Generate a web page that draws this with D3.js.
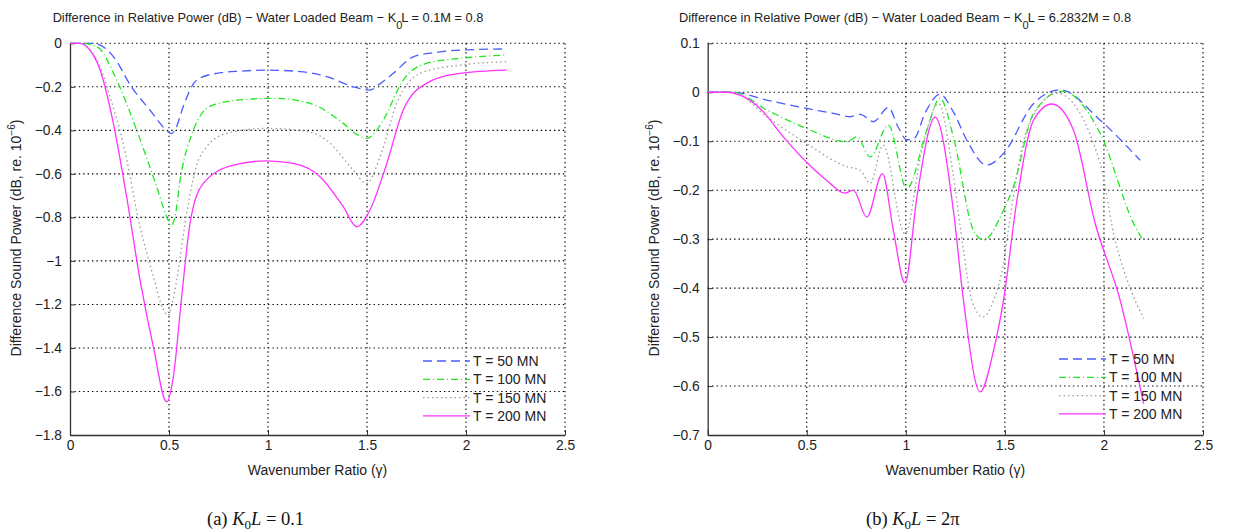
<!DOCTYPE html>
<html>
<head>
<meta charset="utf-8">
<script src="https://cdn.jsdelivr.net/npm/d3@7"></script>
<style>
  body { margin: 0; background: #fff; }
</style>
</head>
<body>
<div id="chart"></div>
<script>
// ---- data ----
var seriesNames = ["T = 50 MN", "T = 100 MN", "T = 150 MN", "T = 200 MN"];
var xTicks = [0, 0.5, 1, 1.5, 2, 2.5];
var yTicksA = [0, -0.2, -0.4, -0.6, -0.8, -1, -1.2, -1.4, -1.6, -1.8];
var yTicksB = [0.1, 0, -0.1, -0.2, -0.3, -0.4, -0.5, -0.6, -0.7];

// panel (a) K0L = 0.1, pairs [gamma, dB]
var a50 = [[0,0],[0.06,0],[0.118,0],[0.22,-0.062],[0.31,-0.2],[0.404,-0.307],[0.488,-0.4],[0.512,-0.415],
  [0.535,-0.39],[0.572,-0.29],[0.64,-0.169],[0.74,-0.138],[0.86,-0.128],[0.993,-0.123],[1.162,-0.13],
  [1.296,-0.153],[1.431,-0.2],[1.515,-0.215],[1.56,-0.19],[1.633,-0.138],[1.734,-0.062],[1.85,-0.042],
  [1.97,-0.031],[2.205,-0.026]];
var a100 = [[0,0],[0.06,0],[0.135,-0.015],[0.236,-0.169],[0.337,-0.4],[0.438,-0.66],[0.49,-0.8],[0.51,-0.838],
  [0.53,-0.8],[0.556,-0.629],[0.623,-0.4],[0.707,-0.29],[0.859,-0.26],[1.027,-0.253],[1.212,-0.276],
  [1.38,-0.368],[1.45,-0.42],[1.498,-0.437],[1.54,-0.41],[1.582,-0.353],[1.683,-0.169],[1.8,-0.092],
  [1.97,-0.069],[2.205,-0.054]];
var a150 = [[0,0],[0.06,0],[0.1,-0.03],[0.152,-0.107],[0.202,-0.245],[0.269,-0.46],[0.354,-0.843],[0.421,-1.073],
  [0.47,-1.22],[0.495,-1.25],[0.515,-1.2],[0.539,-1.088],[0.589,-0.782],[0.657,-0.52],[0.79,-0.414],
  [0.993,-0.391],[1.162,-0.4],[1.296,-0.445],[1.431,-0.583],[1.498,-0.644],[1.566,-0.521],[1.65,-0.276],
  [1.768,-0.138],[1.97,-0.1],[2.205,-0.085]];
var a200 = [[0,0],[0.05,0],[0.084,-0.015],[0.152,-0.123],[0.219,-0.368],[0.286,-0.705],[0.354,-1.088],
  [0.421,-1.395],[0.488,-1.648],[0.522,-1.533],[0.564,-1.165],[0.606,-0.828],[0.673,-0.644],[0.825,-0.56],
  [0.993,-0.54],[1.128,-0.552],[1.263,-0.613],[1.38,-0.751],[1.448,-0.843],[1.515,-0.766],[1.6,-0.552],
  [1.683,-0.307],[1.8,-0.184],[1.97,-0.138],[2.205,-0.123]];

// panel (b) K0L = 2*pi
var b50 = [[0,0],[0.13,0],[0.298,-0.016],[0.5,-0.033],[0.634,-0.043],[0.719,-0.05],[0.77,-0.045],
  [0.837,-0.06],[0.912,-0.031],[0.96,-0.07],[1.005,-0.097],[1.04,-0.095],[1.1,-0.04],[1.173,-0.004],
  [1.24,-0.04],[1.308,-0.098],[1.409,-0.149],[1.493,-0.125],[1.645,-0.023],[1.78,0.005],[1.981,-0.057],
  [2.183,-0.139]];
var b100 = [[0,0],[0.13,0],[0.298,-0.036],[0.5,-0.074],[0.702,-0.101],[0.753,-0.091],[0.82,-0.132],
  [0.912,-0.067],[1.005,-0.197],[1.106,-0.077],[1.173,-0.012],[1.24,-0.091],[1.341,-0.282],[1.392,-0.302],
  [1.493,-0.241],[1.543,-0.193],[1.645,-0.043],[1.788,0.002],[1.981,-0.084],[2.15,-0.268],[2.192,-0.299]];
var b150 = [[0,0],[0.13,0],[0.298,-0.05],[0.5,-0.105],[0.702,-0.152],[0.769,-0.159],[0.82,-0.186],
  [0.885,-0.108],[0.996,-0.289],[1.08,-0.12],[1.165,-0.023],[1.24,-0.17],[1.291,-0.323],[1.333,-0.425],
  [1.389,-0.459],[1.443,-0.425],[1.493,-0.35],[1.527,-0.255],[1.611,-0.077],[1.763,-0.002],[1.981,-0.145],
  [2.049,-0.289],[2.15,-0.418],[2.2,-0.462]];
var b200 = [[0,0],[0.1,0],[0.163,-0.006],[0.264,-0.033],[0.382,-0.091],[0.497,-0.142],[0.601,-0.18],
  [0.693,-0.206],[0.735,-0.2],[0.803,-0.255],[0.882,-0.166],[0.937,-0.282],[0.996,-0.39],[1.056,-0.214],
  [1.148,-0.051],[1.24,-0.241],[1.291,-0.425],[1.375,-0.612],[1.443,-0.527],[1.493,-0.425],[1.561,-0.22],
  [1.645,-0.057],[1.737,-0.024],[1.846,-0.077],[1.956,-0.268],[2.082,-0.425],[2.2,-0.636]];

var colors = ["#4a5cff", "#22e622", "#9a9a9a", "#ff33ff"];
var dashes = ["9,5", "7,3,1,3", "1.5,3", null];
var sans = "'Liberation Sans', Arial, sans-serif";

var svg = d3.select("#chart").append("svg")
  .attr("width", 1234)
  .attr("height", 531)
  .style("font-family", sans);

function panel(opt) {
  var x = d3.scaleLinear().domain([0, 2.5]).range([opt.left, opt.right]);
  var y = d3.scaleLinear().domain(opt.yDomain).range([43.3, 435]);
  var g = svg.append("g");

  // dotted grid
  g.selectAll(".gx").data(xTicks.slice(1)).enter().append("line")
    .attr("x1", function(d) { return x(d); }).attr("x2", function(d) { return x(d); })
    .attr("y1", y.range()[0]).attr("y2", y.range()[1])
    .attr("stroke", "#000").attr("stroke-width", 1.1).attr("stroke-dasharray", "1.4,3");
  g.selectAll(".gy").data(opt.yTicks.slice(0, -1)).enter().append("line")
    .attr("y1", function(d) { return y(d); }).attr("y2", function(d) { return y(d); })
    .attr("x1", x.range()[0]).attr("x2", x.range()[1])
    .attr("stroke", "#000").attr("stroke-width", 1.1).attr("stroke-dasharray", "1.4,3");

  // axes
  var xAxis = d3.axisBottom(x).tickValues(xTicks).tickSizeInner(-5).tickSizeOuter(0).tickPadding(8)
    .tickFormat(d3.format("~g"));
  var yAxis = d3.axisLeft(y).tickValues(opt.yTicks).tickSizeInner(-5).tickSizeOuter(0).tickPadding(8)
    .tickFormat(function(d) { return d3.format("~g")(d).replace("-", "\u2212"); });
  var gx = g.append("g").attr("transform", "translate(0," + y.range()[1] + ")").call(xAxis);
  var gy = g.append("g").attr("transform", "translate(" + x.range()[0] + ",0)").call(yAxis);
  [gx, gy].forEach(function(a) {
    a.select(".domain").attr("stroke", "#333").attr("stroke-width", 1.3);
    a.selectAll(".tick line").attr("stroke", "#333");
    a.selectAll("text").attr("font-size", 13.8).attr("fill", "#222")
      .attr("font-family", sans);
  });
  gx.selectAll("text").attr("dy", "0.5em");

  // curves
  var line = d3.line()
    .x(function(d) { return x(d[0]); })
    .y(function(d) { return y(d[1]); })
    .curve(d3.curveMonotoneX);
  opt.series.forEach(function(s, i) {
    g.append("path").datum(s)
      .attr("d", line)
      .attr("fill", "none")
      .attr("stroke", colors[i])
      .attr("stroke-width", 1.3)
      .attr("stroke-dasharray", dashes[i]);
  });

  // legend
  var lg = g.append("g");
  seriesNames.forEach(function(n, i) {
    var yy = opt.legendY + i * 18.3;
    lg.append("line")
      .attr("x1", opt.legendX).attr("x2", opt.legendX + 47)
      .attr("y1", yy).attr("y2", yy)
      .attr("stroke", colors[i]).attr("stroke-width", 1.3)
      .attr("stroke-dasharray", dashes[i]);
    lg.append("text")
      .attr("x", opt.legendX + 50).attr("y", yy + 5)
      .attr("font-size", 14).attr("fill", "#222")
      .text(n);
  });

  // title
  var t = g.append("text")
    .attr("x", opt.titleX).attr("y", 22)
    .attr("text-anchor", "middle")
    .attr("font-size", 12.8).attr("fill", "#222");
  t.append("tspan").text("Difference in Relative Power (dB) \u2212 Water Loaded Beam \u2212 K");
  t.append("tspan").attr("dy", 7).attr("font-size", 11).text("0");
  t.append("tspan").attr("dy", -7).attr("dx", -1).text("L = " + opt.k0l + "M = 0.8");

  // axis labels
  g.append("text")
    .attr("x", (x.range()[0] + x.range()[1]) / 2).attr("y", 475)
    .attr("text-anchor", "middle").attr("font-size", 14).attr("fill", "#222")
    .text("Wavenumber Ratio (\u03b3)");
  var yl = g.append("text")
    .attr("transform", "translate(" + opt.yLabelX + ",238) rotate(-90)")
    .attr("text-anchor", "middle").attr("font-size", 14).attr("fill", "#222");
  yl.append("tspan").text("Difference Sound Power (dB, re. 10");
  yl.append("tspan").attr("dy", -6).attr("font-size", 10).text("\u22126");
  yl.append("tspan").attr("dy", 6).text(")");

  // sub caption
  var c = svg.append("text")
    .attr("x", opt.capX).attr("y", 525)
    .style("font-family", "'Liberation Serif', 'DejaVu Serif', serif")
    .attr("font-size", 18.5).attr("fill", "#111");
  c.append("tspan").text(opt.capLabel + " ");
  c.append("tspan").attr("font-style", "italic").text("K");
  c.append("tspan").attr("dy", 4).attr("font-size", 13).text("0");
  c.append("tspan").attr("dy", -4).attr("font-style", "italic").text("L");
  c.append("tspan").text(" = " + opt.capValue);
}

panel({
  left: 70, right: 565, yDomain: [0, -1.8], yTicks: yTicksA,
  series: [a50, a100, a150, a200],
  legendX: 423, legendY: 361,
  titleX: 268, k0l: "0.1", yLabelX: 21,
  capX: 207, capLabel: "(a)", capValue: "0.1"
});
panel({
  left: 707.7, right: 1203, yDomain: [0.1, -0.7], yTicks: yTicksB,
  series: [b50, b100, b150, b200],
  legendX: 1059, legendY: 359,
  titleX: 905, k0l: "6.2832", yLabelX: 659,
  capX: 866, capLabel: "(b)", capValue: "2\u03c0"
});
</script>
</body>
</html>
